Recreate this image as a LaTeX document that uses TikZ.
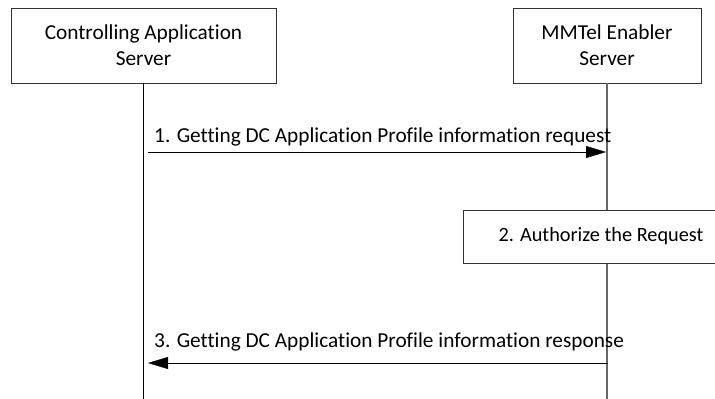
\documentclass[tikz,border=0pt]{standalone}
\usepackage{fontspec}
\setmainfont[Ligatures=NoCommon]{Carlito}
\usetikzlibrary{arrows.meta}

\begin{document}
\begin{tikzpicture}
   [x=1pt,y=-1pt,every node/.style={font=\fontsize{21.3}{26}\selectfont},
    entity/.style={draw=black!80,semithick,fill=white,align=center,inner sep=0pt},
    msg/.style={-{Triangle[length=20pt,width=12pt]},thin},
    lifeline/.style={thin}]

  \clip (0,0) rectangle (715,399);
  \useasboundingbox (0,0) rectangle (715,399);

  \node[entity,minimum width=265pt,minimum height=75pt] (cas) at (143.5,45.5) {Controlling Application\\Server};
  \node[entity,minimum width=188pt,minimum height=75pt] (mes) at (607,45.5) {MMTel Enabler\\Server};

  \coordinate (casend) at (143.5,399);
  \coordinate (mesend) at (607,399);

  \draw[lifeline] (cas) -- (casend);
  \draw[lifeline,black!60,line width=1.5pt] (mes) -- (mesend);

  \node[entity,minimum width=276pt,minimum height=53pt,font=\fontsize{20.3}{26}\selectfont] (auth) at (601,236.5) {2. Authorize the Request};

  \coordinate (m1s) at (148,152);
  \coordinate (m1e) at (606,152);
  \coordinate (m3s) at (608,363);
  \coordinate (m3e) at (148,363);

  \draw[msg] (m1s) -- (m1e) node[pos=0,anchor=south west,inner sep=0pt,yshift=6pt,xshift=6pt] {1. Getting DC Application Profile information request};
  \draw[msg] (m3s) -- (m3e) node[pos=1,anchor=south west,inner sep=0pt,yshift=12pt,xshift=6pt] {3. Getting DC Application Profile information response};

\end{tikzpicture}
\end{document}
